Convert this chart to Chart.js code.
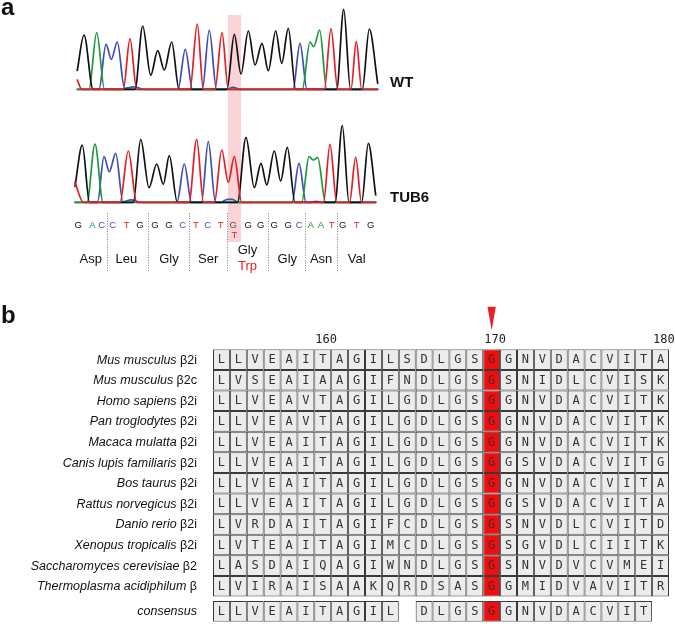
<!DOCTYPE html>
<html><head><meta charset="utf-8">
<script src="https://cdn.jsdelivr.net/npm/chart.js@4.4.1/dist/chart.umd.min.js"></script>
<style>
html,body{margin:0;padding:0;background:#fff;width:675px;height:624px;overflow:hidden;}
#ca{position:absolute;left:0;top:0;width:675px;height:300px;}
#cb{position:absolute;left:0;top:290px;width:675px;height:334px;}
</style></head><body>
<canvas id="ca" width="675" height="300"></canvas>
<canvas id="cb" width="675" height="334"></canvas>
<script>
// ---------- Panel a: chromatogram traces, [scan position, signal] ----------
const wtG = [[77.3,19],[84,54.3],[93,0],[135,0],[142.7,63.3],[150.7,14],[157.7,38.6],[164.3,19.3],[171.7,47.3],[179,0],[227,0],[234.3,55],[241,15.3],[248.3,58.3],[255,24.3],[262,46],[268.3,18.6],[275.7,58.3],[281.7,26],[288.3,61],[295.7,0],[336.7,0],[343.7,80],[350.5,0],[362.3,0],[369.3,60.3],[377.7,6]];
const wtA = [[77.3,0],[89,0],[96.7,56.6],[104.5,0],[302.3,0],[310,47.3],[313.7,42.6],[319.7,59.3],[326.7,0],[377.7,0]];
const wtC = [[77.3,0],[99,0],[106,45],[111.3,30],[117.3,47.3],[124.5,1],[134,2.5],[144,0],[178,0],[185.3,40],[192.5,0],[202.3,0],[209.3,59.3],[216.5,0],[227,0],[233,2],[240,0],[293,0],[300,46],[307,0],[377.7,0]];
const wtT = [[77.3,9.3],[81.7,0],[123.3,0],[130,50.6],[136.7,0],[190,0],[197.3,65.3],[203.3,0],[215,0],[222,56.6],[228.3,0],[324.3,0],[331,60.6],[337.7,0],[351,0],[356.3,48],[361.7,0],[377.7,0]];

const tbG = [[75,16],[82.3,57.3],[89.5,0],[133.3,0],[140.7,63],[149,14.6],[156.7,38.3],[163.3,18],[169.3,46.6],[177.3,0],[237.5,0],[246,65],[254.3,14.6],[261,39],[266.7,17.3],[274.3,51.3],[280.7,21.3],[287.3,55],[295,0],[335,0],[342.3,76.6],[349,0],[361.7,0],[368.3,59],[375.7,7.3]];
const tbA = [[75,0],[87,0],[95,58.3],[103,0],[301.7,0],[309,45.6],[313.3,42.3],[317.7,44.6],[325.5,0],[375.7,0]];
const tbC = [[75,0],[97.5,0],[104,45.6],[109.3,30.6],[115.7,49],[123,0.5],[131,2.5],[141,0],[177,0],[184.3,38.3],[191.5,0],[201.5,0],[208.3,60.6],[215.5,0],[221,0],[227.5,3],[232.5,3],[238,0],[292,0],[299,39],[306,0],[311,0],[316,1],[321,0],[375.7,0]];
const tbT = [[75,20],[83.3,0],[120,0],[128.3,51.3],[136.7,0],[189,0],[196.7,63],[203.5,0],[214.5,0],[221.7,52.3],[228.3,20],[234.3,45.6],[241.7,0],[323.5,0],[330,58],[336.7,0],[349.5,0],[355.7,45],[361.5,0],[375.7,0]];

const bases = ["G","A","C","C","T","G","G","G","C","T","C","T","G","G","G","G","G","C","A","A","T","G","T","G"];
const basePos = [78.3,92.3,101.7,112.7,126.7,140,155,169,182.7,196,207.7,220.7,233.3,248.3,260.7,274.3,288.3,299.3,310.7,321,331.7,342.7,356.7,370.7];
const mutIndex = 12;
const mutBase = "T";
const aminoAcids = ["Asp","Leu","Gly","Ser","Gly","Gly","Asn","Val"];
const mutCodon = 4;
const mutAminoAcid = "Trp";
const traceNames = ["WT","TUB6"];

// ---------- Panel b: alignment ----------
const species = ["Mus musculus","Mus musculus","Homo sapiens","Pan troglodytes","Macaca mulatta","Canis lupis familiaris","Bos taurus","Rattus norvegicus","Danio rerio","Xenopus tropicalis","Saccharomyces cerevisiae","Thermoplasma acidiphilum","consensus"];
const subunits = ["β2i","β2c","β2i","β2i","β2i","β2i","β2i","β2i","β2i","β2i","β2","β",""];
const sequences = [
  "LLVEAITAGILSDLGSGGNVDACVITA",
  "LVSEAIAAGIFNDLGSGSNIDLCVISK",
  "LLVEAVTAGILGDLGSGGNVDACVITK",
  "LLVEAVTAGILGDLGSGGNVDACVITK",
  "LLVEAITAGILGDLGSGGNVDACVITK",
  "LLVEAITAGILGDLGSGGSVDACVITG",
  "LLVEAITAGILGDLGSGGNVDACVITA",
  "LLVEAITAGILGDLGSGGSVDACVITA",
  "LVRDAITAGIFCDLGSGSNVDLCVITD",
  "LVTEAITAGIMCDLGSGSGVDLCIITK",
  "LASDAIQAGIWNDLGSGSNVDVCVMEI",
  "LVIRAISAAKQRDSASGGMIDVAVITR",
  "LLVEAITAGIL DLGSGGNVDACVIT "
];
const firstPosition = 154;
const positionTicks = [160,170,180];
const markedPosition = 170;

// ---------- styles ----------
const baseColor = {G:"#111111",A:"#1b9a3c",C:"#3d4fb5",T:"#e41e26"};
const SANS = '"Liberation Sans", Arial, Helvetica, sans-serif';
const MONO = '"DejaVu Sans Mono", monospace';
const CONSENSUS_GAP = 0.22;
const rowValue = r => r < sequences.length - 1 ? r : r + CONSENSUS_GAP;

function trace(data, color, axis, order) {
  return {data, borderColor: color, borderWidth: 1.7, pointRadius: 0, fill: false,
    borderJoinStyle: 'round', borderCapStyle: 'round',
    cubicInterpolationMode: 'monotone', yAxisID: axis, order};
}

const panelA = {
  id: 'panelA',
  beforeDatasetsDraw(chart) {
    const ctx = chart.ctx, x = chart.scales.x;
    const c = basePos[mutIndex] + 1.1;
    const l = x.getPixelForValue(c - 6.6), r = x.getPixelForValue(c + 6.6);
    ctx.save();
    ctx.fillStyle = '#f9d3d6';
    ctx.fillRect(l, 15, r - l, 227);
    ctx.restore();
  },
  afterDatasetsDraw(chart) {
    const ctx = chart.ctx, x = chart.scales.x;
    ctx.save();
    ctx.fillStyle = '#111';
    ctx.font = 'bold 24px ' + SANS;
    ctx.textAlign = 'left';
    ctx.textBaseline = 'alphabetic';
    ctx.fillText('a', 1, 15);
    ctx.font = 'bold 15px ' + SANS;
    ctx.fillText(traceNames[0], 390, chart.scales.yWT.getPixelForValue(0) - 2);
    ctx.fillText(traceNames[1], 390, chart.scales.yTUB.getPixelForValue(0) - 0.5);
    ctx.font = '9.5px ' + SANS;
    ctx.textAlign = 'center';
    bases.forEach((b, i) => {
      const px = x.getPixelForValue(basePos[i]);
      ctx.fillStyle = i === mutIndex ? '#555' : baseColor[b];
      ctx.fillText(b, px, 228.3);
    });
    ctx.fillStyle = baseColor[mutBase];
    ctx.fillText(mutBase, x.getPixelForValue(basePos[mutIndex]) + 1, 237.5);
    ctx.strokeStyle = '#7a7a7a';
    ctx.lineWidth = 1;
    ctx.setLineDash([1, 1.6]);
    for (let k = 1; k < aminoAcids.length; k++) {
      const px = Math.round(x.getPixelForValue((basePos[3*k-1] + basePos[3*k]) / 2)) + 0.5;
      ctx.beginPath(); ctx.moveTo(px, 213); ctx.lineTo(px, 273); ctx.stroke();
    }
    ctx.setLineDash([]);
    ctx.font = '13px ' + SANS;
    aminoAcids.forEach((aa, k) => {
      const px = x.getPixelForValue((basePos[3*k] + basePos[3*k+1] + basePos[3*k+2]) / 3);
      if (k === mutCodon) {
        ctx.fillStyle = '#111'; ctx.fillText(aa, px, 253.5);
        ctx.fillStyle = baseColor.T; ctx.fillText(mutAminoAcid, px, 269.5);
      } else {
        ctx.fillStyle = '#111'; ctx.fillText(aa, px, 263.3);
      }
    });
    ctx.restore();
  }
};

new Chart(document.getElementById('ca'), {
  type: 'line',
  data: {datasets: [
    trace(wtT, baseColor.T, 'yWT', 0), trace(wtG, baseColor.G, 'yWT', 1),
    trace(wtA, baseColor.A, 'yWT', 2), trace(wtC, baseColor.C, 'yWT', 3),
    trace(tbT, baseColor.T, 'yTUB', 0), trace(tbG, baseColor.G, 'yTUB', 1),
    trace(tbA, baseColor.A, 'yTUB', 2), trace(tbC, baseColor.C, 'yTUB', 3)
  ]},
  options: {
    responsive: false, animation: false, devicePixelRatio: 1,
    layout: {padding: 0},
    plugins: {legend: {display: false}, tooltip: {enabled: false}},
    scales: {
      x: {type: 'linear', display: false, offset: false, min: 0, max: 675},
      yWT: {type: 'linear', display: false, offset: false, min: -210.7, max: 89.3},
      yTUB: {type: 'linear', display: false, offset: false, min: -97.7, max: 202.3}
    }
  },
  plugins: [panelA]
});

// ---------- Panel b chart ----------
const nCols = sequences[0].length;
const colDatasets = [];
for (let c = 0; c < nCols; c++) {
  const pos = firstPosition + c;
  const data = [], letters = [];
  sequences.forEach((s, r) => {
    if (s[c] !== ' ') { data.push({x: [pos - 0.5, pos + 0.5], y: rowValue(r)}); letters.push(s[c]); }
  });
  colDatasets.push({
    data, letters,
    backgroundColor: pos === markedPosition ? '#f10d0d' : '#ececec',
    borderColor: '#3a3a3a', borderWidth: 1, borderSkipped: false,
    barThickness: 20.6, grouped: false, inflateAmount: 0
  });
}

const panelB = {
  id: 'panelB',
  afterDatasetsDraw(chart) {
    const ctx = chart.ctx, xs = chart.scales.x, ys = chart.scales.y, area = chart.chartArea;
    ctx.save();
    ctx.font = '12px ' + MONO;
    ctx.textAlign = 'center';
    ctx.textBaseline = 'middle';
    ctx.fillStyle = '#333';
    chart.data.datasets.forEach((ds, i) => {
      chart.getDatasetMeta(i).data.forEach((el, j) => {
        const p = el.getCenterPoint();
        ctx.fillText(ds.letters[j], p.x, p.y + 0.5);
      });
    });
    ctx.textAlign = 'left';
    ctx.textBaseline = 'middle';
    ctx.fillStyle = '#111';
    const right = area.left - 16;
    species.forEach((name, r) => {
      const y = ys.getPixelForValue(rowValue(r)) + 0.5;
      ctx.font = '12.5px ' + SANS;
      const sub = subunits[r];
      const wSub = sub ? ctx.measureText(sub).width : 0;
      ctx.font = 'italic 12.5px ' + SANS;
      const nm = sub ? name + ' ' : name;
      const wName = ctx.measureText(nm).width;
      ctx.fillText(nm, right - wSub - wName, y);
      if (sub) { ctx.font = '12.5px ' + SANS; ctx.fillText(sub, right - wSub, y); }
    });
    ctx.font = '12px ' + MONO;
    ctx.textBaseline = 'alphabetic';
    ctx.fillStyle = '#222';
    positionTicks.forEach(p => ctx.fillText(String(p), xs.getPixelForValue(p - 0.5) + 1, area.top - 6));
    const mx = xs.getPixelForValue(markedPosition);
    ctx.fillStyle = '#e8202a';
    ctx.beginPath();
    ctx.moveTo(mx - 4.2, area.top - 42.5);
    ctx.lineTo(mx + 4.2, area.top - 42.5);
    ctx.lineTo(mx, area.top - 19);
    ctx.closePath(); ctx.fill();
    ctx.fillStyle = '#111';
    ctx.font = 'bold 24px ' + SANS;
    ctx.fillText('b', 1, 33);
    ctx.restore();
  }
};

new Chart(document.getElementById('cb'), {
  type: 'bar',
  data: {datasets: colDatasets},
  options: {
    indexAxis: 'y',
    responsive: false, animation: false, devicePixelRatio: 1,
    layout: {padding: {left: 213, right: 6, top: 59.3, bottom: 2.3}},
    plugins: {legend: {display: false}, tooltip: {enabled: false}},
    scales: {
      x: {type: 'linear', display: false, offset: false, min: firstPosition - 0.5, max: firstPosition + nCols - 0.5},
      y: {type: 'linear', display: false, offset: false, reverse: true, min: -0.5, max: sequences.length - 1 + CONSENSUS_GAP + 0.5}
    }
  },
  plugins: [panelB]
});
</script>
</body></html>
